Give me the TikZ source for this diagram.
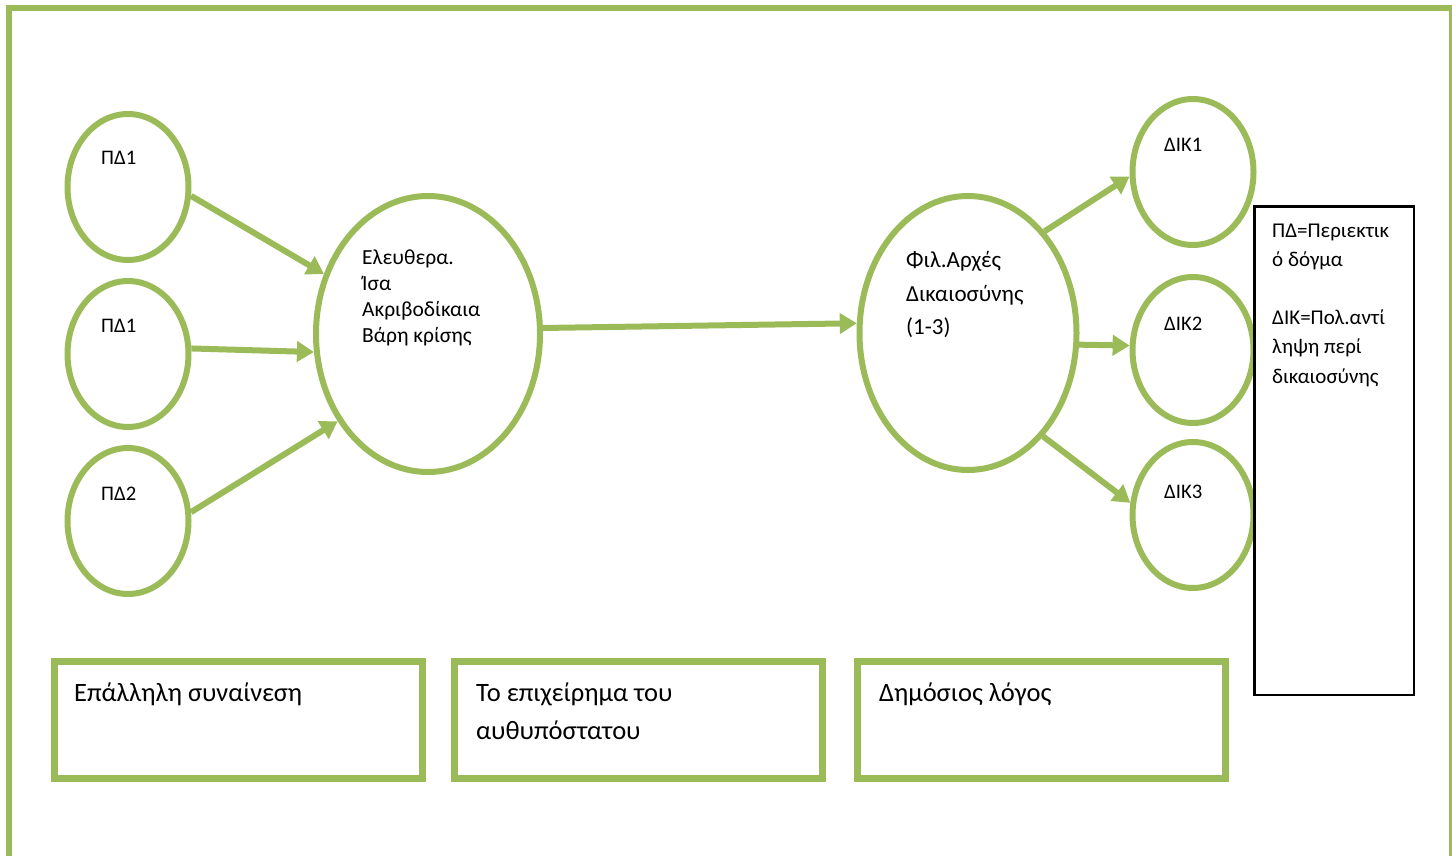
\documentclass[tikz,border=0pt]{standalone}
\usepackage{fontspec}
\setmainfont{Carlito}
\usetikzlibrary{shapes.geometric,arrows.meta}
\definecolor{olive}{HTML}{9BBB59}

\begin{document}
\begin{tikzpicture}[x=1pt, y=-1pt,
    main/.style = {draw=olive, ellipse, line width=6pt, minimum width=121pt, minimum height=146pt, inner sep=0pt},
    big/.style = {main, minimum width=224pt, minimum height=276pt},
    arr/.style = {draw=olive, line width=6pt, -{Triangle[length=17pt,width=20pt]}},
    box/.style = {draw=olive, line width=7pt, minimum width=368pt, minimum height=117pt, outer sep=0pt, inner sep=0pt},
    lbl/.style = {anchor=base west, inner sep=0pt, font=\fontsize{20.7}{26}\selectfont}]
			\useasboundingbox (0,0) rectangle (1452,856);
			\clip (0,0) rectangle (1452,856);
			\draw[draw=olive, line width=6pt] (9,8) rectangle (1452,900);
			\node[main] (pd1) at (128,187) {};
			\node[main] (pd2) at (128,354) {};
			\node[main] (pd3) at (128,521) {};
			\node[big] (arx) at (428,334) {};
			\node[big, minimum width=217pt, minimum height=274pt] (fil) at (968,333) {};
			\node[main] (dik1) at (1193,172) {};
			\node[main] (dik2) at (1193,350) {};
			\node[main] (dik3) at (1193,515) {};
			\node[lbl] at (101,165) {ΠΔ1};
			\node[lbl] at (101,332) {ΠΔ1};
			\node[lbl] at (101,500) {ΠΔ2};
			\node[lbl] at (1164,152) {ΔΙΚ1};
			\node[lbl] at (1164,330) {ΔΙΚ2};
			\node[lbl] at (1164,498) {ΔΙΚ3};
			\foreach \yy/\t in {264/Ελευθερα., 290/Ίσα, 316/Ακριβοδίκαια, 342/Βάρη κρίσης}
				\node[lbl, font=\fontsize{21.5}{26}\selectfont] at (362,\yy) {\t};
			\foreach \yy/\t in {267/Φιλ.Αρχές, 301/Δικαιοσύνης, 334/(1-3)}
				\node[lbl, font=\fontsize{23}{32}\selectfont] at (906,\yy) {\t};
			\draw[arr] (pd1.-8) -- (arx.150);
			\draw[arr] (pd2.5) -- (arx.189);
			\draw[arr] (pd3.8) -- (arx.224);
			\draw[arr] (arx.3) -- (fil.175);
			\draw[arr] (fil.53) -- (dik1.184);
			\draw[arr] (fil.-6) -- (dik2.176);
			\draw[arr] (fil.-54) -- (dik3.169);
			\node[draw, line width=2.5pt, fill=white, outer sep=0pt, minimum width=159.5pt, minimum height=488.5pt, anchor=north west] (key) at (1254.5,206.5) {};
			\foreach \yy/\t in {237/ΠΔ=Περιεκτικ, 266/ό δόγμα, 324/ΔΙΚ=Πολ.αντί, 353/ληψη περί, 383/δικαιοσύνης}
				\node[lbl, font=\fontsize{21}{29}\selectfont] at (1272,\yy) {\t};
			\node[box] (b1) at (238,720) {};
			\node[box] (b2) at (638.5,720) {};
			\node[box] (b3) at (1041.5,720) {};
			\node[lbl, font=\fontsize{26.5}{38}\selectfont] at (74,701) {Επάλληλη συναίνεση};
			\node[lbl, font=\fontsize{26.5}{38}\selectfont] at (476,701) {Το επιχείρημα του};
			\node[lbl, font=\fontsize{26.5}{38}\selectfont] at (476,739) {αυθυπόστατου};
			\node[lbl, font=\fontsize{26.5}{38}\selectfont] at (879,701) {Δημόσιος λόγος};
		\end{tikzpicture}
\end{document}
